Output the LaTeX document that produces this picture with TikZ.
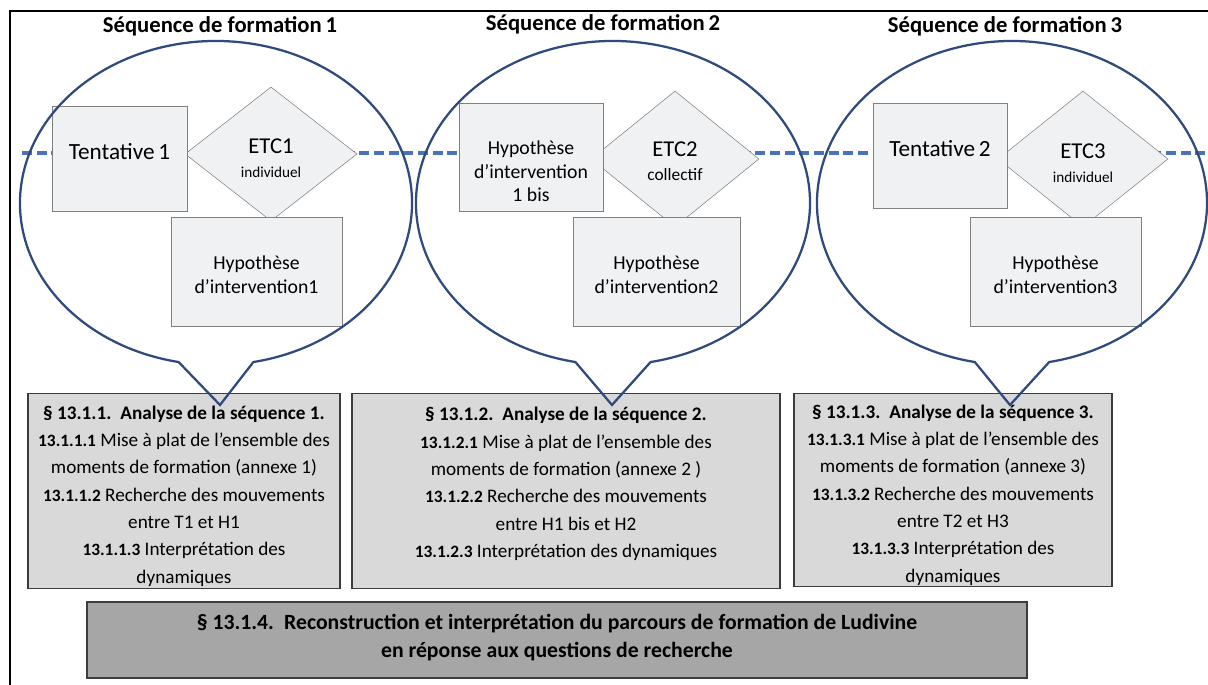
\documentclass[tikz,border=0pt]{standalone}
\usepackage{fontspec}
\setmainfont{Carlito}
\usepackage{tikz}
\usetikzlibrary{shapes.geometric, positioning, calc}

\definecolor{bulleblue}{RGB}{47,74,125}
\definecolor{lienblue}{RGB}{74,114,182}
\definecolor{boxfill}{RGB}{240,241,243}
\definecolor{boxline}{RGB}{128,128,128}
\definecolor{anafill}{RGB}{217,217,217}
\definecolor{synfill}{RGB}{166,166,166}
\definecolor{darkline}{RGB}{60,60,60}

\newcommand{\numsec}[1]{{\fontsize{13}{13}\selectfont\bfseries #1}}

\begin{document}
\begin{tikzpicture}[
			x=0.75pt, y=-0.75pt,
			titre/.style={font=\bfseries\fontsize{17}{20}\selectfont},
			essai/.style={draw=boxline, fill=boxfill, rectangle, align=center, inner sep=0pt, font=\fontsize{17.4}{19}\selectfont},
			etc/.style={draw=boxline, fill=boxfill, diamond, align=center, inner sep=0pt, font=\fontsize{17}{18}\selectfont},
			hypo/.style={draw=boxline, fill=boxfill, rectangle, align=center, inner sep=0pt, font=\fontsize{14.8}{17.6}\selectfont},
			analyse/.style={draw=darkline, fill=anafill, line width=1pt, anchor=north, align=center, inner xsep=2pt, inner ysep=0pt, minimum height=146.25pt, font=\fontsize{14.4}{20.5}\selectfont},
			synthese/.style={draw=darkline, fill=synfill, line width=1pt, align=center, font=\bfseries\fontsize{16.3}{20.5}\selectfont},
			bulle/.style={draw=bulleblue, line width=1.7pt},
			lien/.style={draw=lienblue, line width=2.4pt, dash pattern=on 7.5pt off 3.5pt}
			]
			\useasboundingbox (0,0) rectangle (1208,685);
			% --- Cadre ---
			\draw[line width=1.1pt] (10,700) -- (10,11) -- (1220,11);
			
			% --- Ligne du parcours (pointillés) ---
			\coordinate (debut) at (22,153);
			\coordinate (fin) at (1210,153);
			\draw[lien] (debut) -- (fin);
			
			% --- Séquence 1 ---
			\node[etc, minimum width=129pt, minimum height=100.5pt] (etc1) at (271,154) {\rule{0pt}{17pt}ETC1\\[0pt]{\fontsize{11.4}{12}\selectfont individuel}};
			\node[essai, minimum width=101.25pt, minimum height=78.75pt] (tent1) at (119.5,158.5) {\rule[-11pt]{0pt}{1pt}Tentative\,1};
			\node[hypo, minimum width=128.25pt, minimum height=81.75pt] (hyp1) at (256.5,271.5) {\rule{0pt}{15pt}Hypothèse\\d’intervention1};
			
			% --- Séquence 2 ---
			\node[etc, minimum width=126pt, minimum height=102pt] (etc2) at (675,159) {\rule{0pt}{15pt}ETC2\\[0pt]{\fontsize{13}{14}\selectfont collectif}};
			\node[hypo, minimum width=108pt, minimum height=81pt] (hyp1bis) at (531,157) {\rule{0pt}{32pt}Hypothèse\\d’intervention\\1 bis};
			\node[hypo, minimum width=125.25pt, minimum height=81.75pt] (hyp2) at (656.5,271.5) {\rule{0pt}{15pt}Hypothèse\\d’intervention2};
			
			% --- Séquence 3 ---
			\node[etc, minimum width=127.5pt, minimum height=102pt] (etc3) at (1083,159) {\rule{0pt}{17pt}ETC3\\[0pt]{\fontsize{11.4}{12}\selectfont individuel}};
			\node[essai, minimum width=100.5pt, minimum height=78.75pt] (tent2) at (940,155.5) {\rule[-11pt]{0pt}{1pt}Tentative\,2};
			\node[hypo, minimum width=128.25pt, minimum height=81.75pt] (hyp3) at (1055.5,271.5) {\rule{0pt}{15pt}Hypothèse\\d’intervention3};
			
			% --- Analyses des séquences ---
			\node[analyse, minimum width=234pt] (ana1) at (184,393) {\rule{0pt}{17.5pt}\textbf{§ 13.1.1.\, Analyse de la séquence 1.}\\
				\numsec{13.1.1.1} Mise à plat de l’ensemble des\\
				moments de formation (annexe 1)\\
				\numsec{13.1.1.2} Recherche des mouvements\\
				entre T1 et H1\\
				\numsec{13.1.1.3} Interprétation des\\
				dynamiques};
			\node[analyse, minimum width=321pt] (ana2) at (566,393) {\rule{0pt}{17.5pt}\textbf{§ 13.1.2.\, Analyse de la séquence 2.}\\
				\numsec{13.1.2.1} Mise à plat de l’ensemble des\\
				moments de formation (annexe 2 )\\
				\numsec{13.1.2.2} Recherche des mouvements\\
				entre H1 bis et H2\\
				\numsec{13.1.2.3} Interprétation des dynamiques\\
				\mbox{}};
			\node[analyse, minimum width=238.5pt, minimum height=144.75pt] (ana3) at (953,393) {\rule{0pt}{17.5pt}\textbf{§ 13.1.3.\, Analyse de la séquence 3.}\\
				\numsec{13.1.3.1} Mise à plat de l’ensemble des\\
				moments de formation (annexe 3)\\
				\numsec{13.1.3.2} Recherche des mouvements\\
				entre T2 et H3\\
				\numsec{13.1.3.3} Interprétation des\\
				dynamiques};
			
			% --- Synthèse ---
			\node[synthese, minimum width=705pt, minimum height=57pt] (synth) at (557,640) {§ 13.1.4.\, Reconstruction et interprétation du parcours de formation de Ludivine\\en réponse aux questions de recherche\rule[-6pt]{0pt}{1pt}};
			
			% --- Bulles ---
			\coordinate (c1) at (216,203);
			\coordinate (c2) at (613,203);
			\coordinate (c3) at (1012,203);
			\coordinate (pointe1) at (220,405);
			\coordinate (pointe2) at (612,405);
			\coordinate (pointe3) at (1010,405);
			\draw[bulle] (c1) ++(101:196 and 162) arc[start angle=101, end angle=439, x radius=196, y radius=162] -- (pointe1) -- cycle;
			\draw[bulle] (c2) ++(101:197 and 162) arc[start angle=101, end angle=439, x radius=197, y radius=162] -- (pointe2) -- cycle;
			\draw[bulle] (c3) ++(101:195 and 162) arc[start angle=101, end angle=439, x radius=195, y radius=162] -- (pointe3) -- cycle;
			
			% --- Titres ---
			\node[titre] (titre1) at (220,26) {Séquence de formation\,1};
			\node[titre] (titre2) at (603,24) {Séquence de formation\,2};
			\node[titre] (titre3) at (1005,26) {Séquence de formation\,3};
			
		\end{tikzpicture}
\end{document}
